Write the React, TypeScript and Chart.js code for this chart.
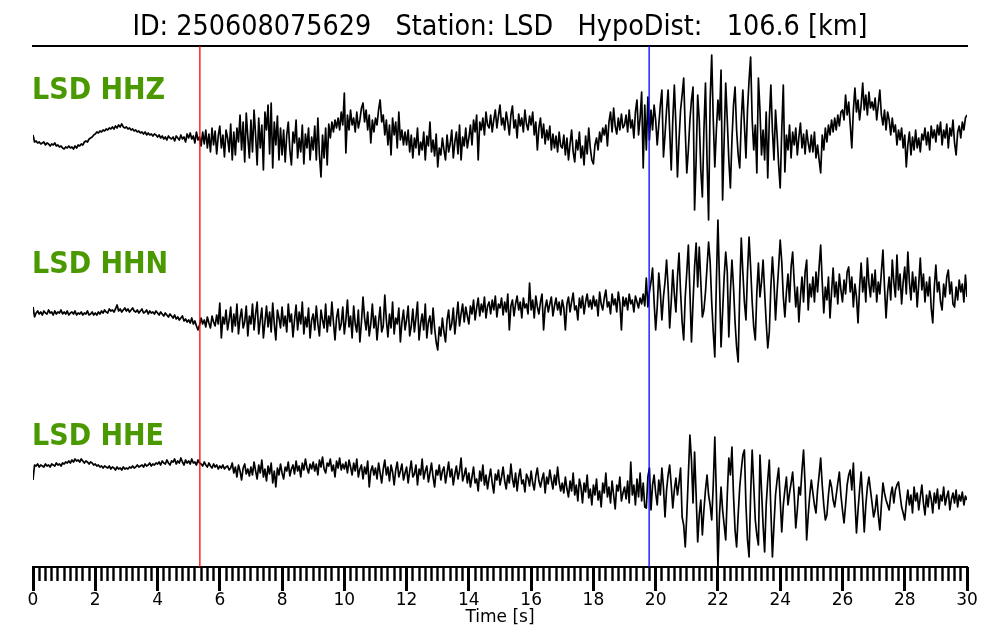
import { useEffect, useRef } from "react";
import { Chart, registerables } from "chart.js";

Chart.register(...registerables);

// ---------------- text ----------------
const TITLE = "ID: 250608075629   Station: LSD   HypoDist:   106.6 [km]";
const CHANNELS = ["LSD HHZ", "LSD HHN", "LSD HHE"];
const X_LABEL = "Time [s]";

// ---------------- axis / picks ----------------
const T_START = 0;
const T_END = 30;
const SAMPLE_INTERVAL = 0.05; // s between samples
const P_PICK = 5.36; // s
const S_PICK = 19.79; // s
const MAJOR_STEP = 2;
const MINOR_STEP = 0.2;

// ---------------- traces (amplitude, up positive) ----------------
const HHZ = [
  5, -2, -1, -3, -2, -4, -3, -2, -5, -3, -4, -6, -4, -5, -3, -6, -5, -7, -6, -8,
  -9, -7, -8, -6, -8, -7, -9, -6, -8, -5, -6, -4, -5, -2, -1, -2, 1, 2, 3, 5,
  6, 8, 7, 9, 8, 10, 9, 11, 10, 12, 11, 13, 11, 14, 12, 15, 13, 16, 13, 12,
  13, 11, 12, 10, 11, 9, 10, 8, 9, 7, 8, 6, 8, 5, 7, 5, 6, 4, 6, 5,
  3, 5, 2, 4, 1, 3, 0, 4, 2, 1, 3, -1, 4, 2, 0, 5, 1, 3, -2, 6,
  2, 7, 1, 4, -3, 8, 0, 3, -6, 8, -4, 10, -8, 6, -12, 12, -5, 9, -14, 4,
  14, -8, 5, -17, 10, 2, -12, 16, -20, 8, -15, 12, -2, 25, -10, 18, -22, 27, 3, -18,
  20, -12, 30, 5, -25, 22, -8, 15, -30, 28, 10, 35, -14, 37, -28, 18, -5, 24, -20, 12,
  -15, 10, -22, 5, 18, -10, -25, 8, -3, 20, -18, 2, -12, 15, -24, 6, -8, 12, -20, 3,
  -10, 14, -20, 22, -15, -37, 5, -18, 12, -25, 16, 2, 18, 8, 20, 12, 22, 10, 28, 15,
  47, -13, 25, 10, 30, 15, 22, 8, 28, 12, 20, 32, 37, 18, 30, 10, 25, -3, 20, 8,
  22, 15, 30, 40, 18, 25, 5, 20, -5, 15, -15, 22, 5, 18, -8, 28, 0, 10, -5, 8,
  -5, 10, -12, 5, -18, 2, -8, 12, -15, -2, -10, 8, -20, 4, -6, 18, -12, 0, -16, 6,
  -27, -8, -15, 2, -10, -20, 5, -12, -4, 10, -18, -2, 8, -14, 15, -20, 3, -6, 12, -8,
  2, 15, -5, 20, 8, 25, -20, 18, 10, 22, 5, 28, 15, 12, 25, 8, 20, 30, 12, 24,
  35, 15, 22, 10, 28, 18, 5, 25, 34, 12, 20, 2, 26, 14, 22, 8, 30, 16, 10, 24,
  15, 28, 5, 18, -10, 12, 22, 2, 16, -4, 10, 0, 14, -10, 6, -8, 4, -12, 8, -6,
  -8, 5, -15, 2, -20, -4, 10, -12, -22, 0, -10, 8, -18, -6, -25, 4, -14, 12, -8, -20,
  -24, -5, 2, -10, 8, -2, 12, 5, 15, -6, 18, 28, 8, 32, 14, 6, 22, 10, 26, 12,
  15, 25, 8, 30, 12, 20, 2, 28, 40, 5, 22, 48, -28, 35, -10, 43, 0, 30, 10, 35,
  20, -5, 15, 35, 50, -17, 5, 30, 50, 10, -30, 20, 55, 15, -37, 0, 30, 45, 62, 10,
  -33, -10, 20, 40, 53, -70, -20, 45, 20, -30, -57, 10, 57, -20, -80, 40, 85, 20, -27, 10,
  40, 20, 70, -60, 0, 57, 20, -20, -48, 0, 35, 53, 10, -15, -28, 20, 50, 15, -18, 30,
  60, 83, 20, -10, 15, -33, 62, 30, -15, 10, -20, 28, -38, 20, 55, 10, -20, 30, 5, -25,
  -48, 10, 55, -32, 5, -10, 15, -18, 8, -5, 12, -15, 3, 17, -8, 6, -14, 10, -3, -12,
  5, -12, 8, -18, -5, -20, -33, 5, -10, 12, -2, 15, 5, 20, 8, 22, 10, 25, 14, 28,
  30, 20, 45, 25, 38, 15, -8, 30, 52, 28, 40, 20, 35, 57, 30, 45, 25, 48, 32, 38,
  30, 42, 20, 35, 50, 25, 15, 30, 10, 28, 20, 5, 22, 8, 15, -5, 10, 0, 12, -8,
  5, -27, -5, 8, -15, 3, -10, 10, -8, 2, -12, 6, 0, 12, -5, 8, -10, 14, 2, 10,
  -2, 15, 5, 18, -5, 10, 2, 16, -8, 12, 4, 20, -3, -15, 8, 14, 2, 18, 10, 22, 25,
];

const HHN = [
  5, -5, -1, 1, -2, 0, -3, 1, -1, -2, 2, -1, 0, -3, 1, -2, 0, -1, 2, -2,
  0, -2, 1, -3, -1, 0, -2, 1, -3, -1, -2, 0, -3, -1, -2, 1, -3, -2, 0, -3,
  -1, -3, 0, -2, 1, -1, 2, 0, -1, 3, 1, 2, 0, 3, 7, 1, 3, 0, 2, 4,
  1, 3, 0, 2, 4, 1, 0, 2, -1, 1, 3, -1, 0, 2, -2, 1, -1, 0, -2, 1,
  -1, -3, 0, -2, -4, -1, -3, -5, -2, -4, -6, -3, -7, -5, -8, -6, -4, -9, -7, -10,
  -8, -11, -6, -12, -9, -14, -18, -13, -6, -12, -8, -15, -5, -11, -16, -4, -10, -14, -3, -12,
  9, -26, -5, -12, 2, -18, -8, 5, -20, -2, -14, 8, -22, -6, 3, -16, -10, 6, -24, -4,
  -12, 8, -18, -2, 10, -22, -8, 4, -26, -10, 6, -15, 0, -20, 9, -12, -28, 2, -6, -16,
  5, -14, -4, -20, 8, -10, -2, -25, -8, 7, -18, 0, -12, 10, -22, -5, -15, 4, -26, -8,
  -2, -18, 6, -12, -24, 2, -8, -16, 8, -20, -4, -14, 10, -10, -28, -6, 3, -18, -12, 5,
  -22, -8, 12, -15, -4, -26, 6, -12, -20, 2, -30, -10, 15, -6, -18, 0, -24, -12, 8, -16,
  -4, -28, -10, 5, -20, -14, 17, -8, -25, -2, -16, 10, -22, -6, -12, 4, -30, -10, 2, -18,
  -8, 6, -24, -14, 3, -20, -6, 10, -28, -12, -2, -18, 8, -26, -10, -4, -22, 4, -16, -30,
  -38, -15, -24, -6, -20, -30, -8, 2, -18, -12, 4, -22, -6, 10, -14, -2, 8, -10, 5, -4,
  -12, 6, -2, 12, -8, 4, 14, -4, 8, 0, 15, -6, 6, 10, -2, 12, 2, 16, -5, 8,
  4, 14, -3, 10, 0, 18, -18, 6, 12, -4, 8, 16, 2, 10, -6, 14, 4, 8, -2, 29,
  2, 12, -6, 16, 5, -2, 10, 18, -18, 4, 12, 0, 8, 15, -4, 6, 14, 2, 10, -3,
  12, 4, -18, 8, 15, 0, 10, 19, 2, 6, -8, 14, 4, 16, -2, 10, 18, 5, 12, 3,
  16, 6, 12, -4, 20, 8, 2, 14, 22, 5, 10, -2, 18, 7, 13, 0, 20, 9, -18, 15,
  6, 14, 2, 18, 8, 12, 0, 16, 10, 4, 14, 8, 18, 6, 34, 5, 20, 30, 44, 10,
  -18, 5, 39, 20, -8, 15, 30, 52, 25, -16, 10, 42, 18, 0, 35, 59, 20, -10, -28, 15,
  40, 67, 20, -30, 10, 45, 69, 25, 65, 30, -5, 2, 20, 45, 70, 50, 10, -20, -45, 30,
  92, 30, -35, 0, 35, 60, 40, -25, 20, 52, 25, -10, -35, -50, 20, 74, 40, 10, -8, 40,
  75, 45, 10, -15, -28, 20, 49, 15, 30, 52, 20, -10, -36, -20, 25, 55, 30, -8, 20, 45,
  72, 50, 15, -5, 20, 38, 10, 45, 60, 30, 5, 25, -10, 15, 35, 10, 40, 52, 2, 28,
  15, 35, 10, 40, 20, 45, 67, 30, -1, 25, 12, 35, -6, 20, 44, 15, 30, 8, 38, 22,
  10, 32, 18, 40, 45, 20, 35, 5, 28, 15, -11, 25, 49, 20, 35, 10, 54, 28, 15, 38,
  20, 42, 10, 30, 18, 40, 62, 25, -6, 20, 35, 12, 52, 30, 15, 57, 22, 38, 8, 30,
  45, 18, 60, 30, 12, 40, 20, 35, 5, 28, 54, 22, 38, 10, 30, 16, 35, 4, -11, 25,
  47, 20, 30, 10, 2, 28, 15, 35, 42, 18, 30, 8, 5, 25, 12, 32, 20, 28, 10, 37, 15,
];

const HHE = [
  -15, 0, -1, 1, -2, 0, -1, -2, 1, -1, 0, -2, 1, 0, -1, 2, 0, 1, -1, 2,
  1, 3, 2, 4, 2, 5, 3, 6, 4, 5, 3, 6, 4, 2, 4, 3, 1, 3, 2, 0,
  1, -1, 0, -2, -1, -3, -1, -2, -3, -1, -4, -2, -3, -5, -2, -4, -3, -5, -2, -4,
  -3, -4, -2, -3, -1, -3, -2, 0, -2, -1, 0, -2, 1, -1, 0, 2, -1, 1, 0, 2,
  1, 3, 0, 4, 2, 1, 5, 2, 0, 4, 3, 6, 1, 4, 2, 7, 3, 0, 5, 2,
  4, 1, 6, 2, 3, 0, 5, 2, 1, -1, 3, 0, -2, 2, -1, -3, 1, -2, 0, -4,
  -1, -3, 0, -4, -2, -1, -5, -3, 2, -8, -2, -12, 0, -6, -15, -3, 1, -9, -4, -11,
  -2, -10, 3, -6, -14, 0, -8, 5, -12, -4, -16, -1, -9, 2, -18, -6, -22, -3, -10, 1,
  -8, -14, -2, -6, 3, -11, -4, 0, -9, 4, -6, -1, -12, 2, -5, 6, -3, -8, 1, -4,
  3, -6, 1, -10, 5, -2, 8, -4, -8, 2, -1, 6, -6, 0, -12, 4, -3, 7, -5, 1,
  -4, 3, -8, 5, -2, -10, 2, -6, 6, -12, -4, 0, -14, -2, -9, 4, -22, -6, -1, -10,
  -3, -14, 2, -8, -18, -4, 5, -10, -2, -16, 0, -7, -20, -5, 3, -12, -6, 1, -15, -8,
  -2, -18, -6, 4, -12, -9, 0, -20, -4, -10, 6, -14, -6, -1, -17, -8, 2, -12, -22, -5,
  -10, 0, -15, -6, -2, -18, -8, 3, -12, -4, -20, -9, -1, -14, -6, 7, -16, -10, -3, -18,
  -8, -22, -12, -2, -18, -14, -26, -6, -16, 0, -20, -10, -24, -13, -4, -18, -28, -9, -15, -5,
  -20, -12, -2, -16, -24, -10, -18, 1, -14, -22, -8, -26, -12, -4, -19, -15, -27, -9, -13, -21,
  -6, -18, -25, -11, -3, -16, -22, -14, -8, -28, -12, -19, -5, -15, -24, -10, -20, -2, -17, -26,
  -18, -28, -12, -24, -32, -16, -26, -8, -30, -20, -36, -14, -22, -38, -18, -27, -10, -33, -24, -40,
  -20, -30, -14, -35, -26, -42, -18, -28, -8, -32, -22, -38, -16, -30, -44, -20, -26, -12, -36, -28,
  -22, -34, -16, -38, 3, -30, -20, -40, -14, -32, -8, -36, -18, -42, -43, -12, -3, -45, -20, -10,
  -28, -40, -15, -30, -3, -22, -52, -25, -10, 0, -20, -43, -25, -13, -30, -18, -3, -52, -60, -82,
  -50, -10, 30, 5, -38, 13, -30, -77, -50, -35, -70, -45, -25, -10, -30, -40, -55, -20, 28, -30,
  -102, -50, -22, -45, -60, -75, -30, 7, -10, 18, -30, -65, -82, -50, -22, -5, 10, 15, -40, -75,
  -92, -30, 15, -20, -55, -70, -80, 10, -25, -60, -87, -40, -15, 5, -45, -92, -60, -30, -15, -3,
  -35, -67, -40, -25, -12, -40, -28, -18, -7, -30, -63, -45, -22, -30, -5, 15, -20, -75, -50, -30,
  -15, -28, -40, -48, -25, -10, 7, -20, -40, -55, -50, -30, -15, -22, -35, -42, -30, -18, -7, -30,
  -45, -58, -40, -20, -10, -5, -25, 2, -35, -68, -45, -25, -7, -35, -67, -40, -22, -12, -25, -38,
  -52, -45, -30, -50, -65, -40, -18, -28, -35, -40, -45, -30, -22, -38, -25, -20, -17, -30, -42, -48,
  -55, -38, -25, -40, -30, -48, -22, -36, -28, -45, -32, -20, -38, -50, -30, -42, -26, -34, -48, -28,
  -38, -24, -44, -30, -36, -22, -40, -32, -26, -45, -34, -28, -38, -25, -42, -30, -36, -27, -40, -31, -35,
];

// ---------------- styling / layout ----------------
const FONT = '"DejaVu Sans", "Liberation Sans", sans-serif';
const FONT_CONDENSED = '"DejaVu Sans Condensed", "DejaVu Sans", sans-serif';
const LABEL_GREEN = "#4a9900";
const LABEL_Y = [91.5, 265.5, 437.5];
// each trace gets its own hidden y-axis; [min, max] sets where its zero line sits
const TRACE_RANGES: [number, number][] = [
  [-427, 94],
  [-255, 266],
  [-102, 419],
];

function toPoints(values: number[]) {
  return values.map((v, i) => ({ x: Math.round(i * SAMPLE_INTERVAL * 1000) / 1000, y: v }));
}

const channelLabels = {
  id: "channelLabels",
  afterDatasetsDraw(chart: any) {
    const { ctx, chartArea } = chart;
    ctx.save();
    ctx.font = `bold 30px ${FONT_CONDENSED}`;
    ctx.fillStyle = LABEL_GREEN;
    ctx.textBaseline = "middle";
    ctx.textAlign = "left";
    CHANNELS.forEach((name, i) => ctx.fillText(name, chartArea.left - 1, LABEL_Y[i]));
    ctx.restore();
  },
};

export default function App() {
  const canvasRef = useRef<HTMLCanvasElement | null>(null);

  useEffect(() => {
    document.body.style.margin = "0";
    const canvas = canvasRef.current;
    if (!canvas) return;

    const traces = [HHZ, HHN, HHE];
    const traceAxes = ["yZ", "yN", "yE"];

    const traceDatasets = traces.map((vals, i) => ({
      label: CHANNELS[i],
      data: toPoints(vals),
      xAxisID: "x",
      yAxisID: traceAxes[i],
      borderColor: "#000000",
      borderWidth: 1.7,
      pointRadius: 0,
      tension: 0,
      fill: false,
      borderJoinStyle: "round" as const,
    }));

    const pickDataset = (t: number, color: string, label: string) => ({
      label,
      data: [
        { x: t, y: 0 },
        { x: t, y: 1 },
      ],
      xAxisID: "x",
      yAxisID: "y",
      borderColor: color,
      borderWidth: 1.3,
      pointRadius: 0,
      fill: false,
    });

    const yScales: any = {};
    traceAxes.forEach((id, i) => {
      yScales[id] = { type: "linear", display: false, min: TRACE_RANGES[i][0], max: TRACE_RANGES[i][1] };
    });

    const chart = new Chart(canvas, {
      type: "line",
      data: {
        datasets: [
          pickDataset(P_PICK, "#ff0000", "P"),
          pickDataset(S_PICK, "#0000ff", "S"),
          ...traceDatasets,
        ] as any,
      },
      options: {
        responsive: false,
        animation: false,
        devicePixelRatio: 1,
        events: [],
        layout: { padding: { left: 33, right: 33, top: 0, bottom: 73 } },
        plugins: {
          legend: { display: false },
          tooltip: { enabled: false },
          title: {
            display: true,
            text: TITLE,
            color: "#000000",
            font: { family: FONT_CONDENSED, size: 28.4, weight: "normal", lineHeight: 1.2 },
            padding: { top: 11, bottom: 0.9 },
          },
        },
        scales: {
          y: { type: "linear", display: false, min: 0, max: 1 },
          ...yScales,
          x: {
            type: "linear",
            min: T_START,
            max: T_END,
            position: { y: 0 } as any,
            grid: {
              display: true,
              drawOnChartArea: false,
              drawTicks: true,
              tickLength: 24,
              tickWidth: 3,
              tickColor: "#000000",
            },
            border: { display: false },
            ticks: {
              stepSize: MAJOR_STEP,
              autoSkip: false,
              maxRotation: 0,
              color: "#000000",
              padding: 1.5,
              font: { family: FONT, size: 17, lineHeight: 1 },
              callback: (v: any) => String(v),
            },
            title: {
              display: true,
              text: X_LABEL,
              color: "#000000",
              font: { family: FONT, size: 17, lineHeight: 1 },
              padding: { top: -2, bottom: 0 },
            },
          },
          xMinor: {
            type: "linear",
            min: T_START,
            max: T_END,
            position: { y: 0 } as any,
            grid: {
              display: true,
              drawOnChartArea: false,
              drawTicks: true,
              tickLength: 13,
              tickWidth: 2.4,
              tickColor: "#000000",
            },
            border: { display: true, width: 2, color: "#000000" },
            ticks: { display: false, stepSize: MINOR_STEP, autoSkip: false },
          },
          xTop: {
            type: "linear",
            min: T_START,
            max: T_END,
            position: { y: 1 } as any,
            grid: { display: true, drawOnChartArea: false, drawTicks: false },
            border: { display: true, width: 2, color: "#000000" },
            ticks: { display: false },
          },
        } as any,
      },
      plugins: [channelLabels],
    });

    return () => chart.destroy();
  }, []);

  return (
    <div style={{ position: "absolute", left: 0, top: 0, width: 1000, height: 640, background: "#ffffff" }}>
      <canvas ref={canvasRef} width={1000} height={640} style={{ display: "block" }} />
    </div>
  );
}
